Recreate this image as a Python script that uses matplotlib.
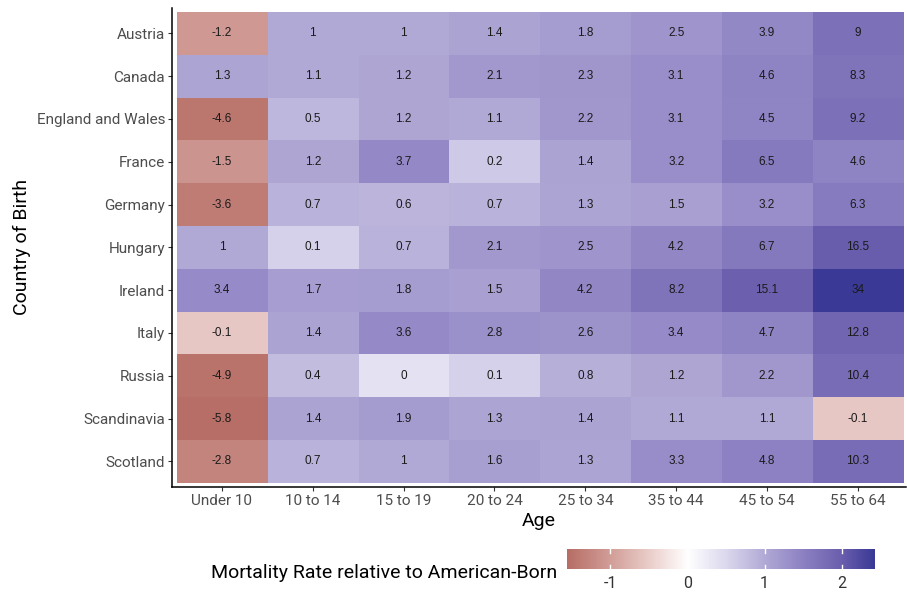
import numpy as np
import matplotlib
matplotlib.use("Agg")
import matplotlib.pyplot as plt
from matplotlib import font_manager
from matplotlib.colors import LinearSegmentedColormap, Normalize

# Data: mortality rate differences (foreign-born minus American-born)
countries = ["Austria", "Canada", "England and Wales", "France", "Germany",
             "Hungary", "Ireland", "Italy", "Russia", "Scandinavia", "Scotland"]
ages = ["Under 10", "10 to 14", "15 to 19", "20 to 24", "25 to 34",
        "35 to 44", "45 to 54", "55 to 64"]

austria = [-1.2, 1, 1, 1.4, 1.8, 2.5, 3.9, 9]
canada = [1.3, 1.1, 1.2, 2.1, 2.3, 3.1, 4.6, 8.3]
england_wales = [-4.6, 0.5, 1.2, 1.1, 2.2, 3.1, 4.5, 9.2]
france = [-1.5, 1.2, 3.7, 0.2, 1.4, 3.2, 6.5, 4.6]
germany = [-3.6, 0.7, 0.6, 0.7, 1.3, 1.5, 3.2, 6.3]
hungary = [1, 0.1, 0.7, 2.1, 2.5, 4.2, 6.7, 16.5]
ireland = [3.4, 1.7, 1.8, 1.5, 4.2, 8.2, 15.1, 34]
italy = [-0.1, 1.4, 3.6, 2.8, 2.6, 3.4, 4.7, 12.8]
russia = [-4.9, 0.4, 0.02, 0.1, 0.8, 1.2, 2.2, 10.4]
scandinavia = [-5.8, 1.4, 1.9, 1.3, 1.4, 1.1, 1.1, -0.1]
scotland = [-2.8, 0.7, 1, 1.6, 1.3, 3.3, 4.8, 10.3]

rows = [austria, canada, england_wales, france, germany, hungary,
        ireland, italy, russia, scandinavia, scotland]

# fonts
available = {f.name for f in font_manager.fontManager.ttflist}
COND = "Liberation Sans Narrow" if "Liberation Sans Narrow" in available else "Roboto"
CELL = "Liberation Sans" if "Liberation Sans" in available else "DejaVu Sans"

values = np.array(rows, dtype=float)
# colour scale: fourth-root transform of the difference
fill = np.sign(values) * np.abs(values) ** 0.25

stops = [(-1.56, "#b76e66"), (-1.0, "#d29e98"), (-0.5, "#eacdc9"),
         (0.0, "#ffffff"), (0.5, "#dcd8ee"), (1.0, "#b2aad6"),
         (1.5, "#8d81c3"), (2.0, "#6b5fae"), (2.43, "#3a3a96")]
lo, hi = stops[0][0], stops[-1][0]
cmap = LinearSegmentedColormap.from_list(
    "mort", [((v - lo) / (hi - lo), c) for v, c in stops])
norm = Normalize(lo, hi)

fig = plt.figure(figsize=(9.07, 5.95), dpi=100)
ax = fig.add_axes([172 / 907, 108.3 / 595, 734 / 907, 478.7 / 595])

nr, nc = values.shape
ax.imshow(fill, cmap=cmap, norm=norm, aspect="auto",
          extent=(-0.5, nc - 0.5, nr - 0.5, -0.5), interpolation="nearest")
for i in range(nr):
    for j in range(nc):
        lab = f"{round(values[i, j], 1):g}"
        if lab == "-0":
            lab = "0"
        ax.text(j, i, lab, ha="center", va="center", fontsize=8.5,
                family=CELL, color="#1a1a1a")

ax.set_xlim(-0.55, nc - 0.5 + 0.03)
ax.set_ylim(nr - 0.5 + 0.09, -0.5 - 0.09)
ax.set_xticks(range(nc))
ax.set_xticklabels(ages)
ax.set_yticks(range(nr))
ax.set_yticklabels(countries)
for lbl in ax.get_xticklabels() + ax.get_yticklabels():
    lbl.set_family(COND)
    lbl.set_fontsize(11)
    lbl.set_color("#4d4d4d")
ax.tick_params(length=3, width=0.8, color="#333333", pad=2)
for s in ("top", "right"):
    ax.spines[s].set_visible(False)
for s in ("left", "bottom"):
    ax.spines[s].set_linewidth(1.1)
ax.set_xlabel("Age", family=COND, fontsize=14, labelpad=3)
ax.set_ylabel("Country of Birth", family=COND, fontsize=14)
ax.yaxis.set_label_coords((31 - 172) / 734, 0.5)

# colourbar legend
cax = fig.add_axes([567 / 907, 26 / 595, 308 / 907, 20 / 595])
grad = np.linspace(lo, hi, 400)[None, :]
cax.imshow(grad, cmap=cmap, norm=norm, aspect="auto",
           extent=(lo, hi, 0, 1))
cax.set_xlim(lo, hi)
cax.set_ylim(0, 1)
for t in [-1, 0, 1, 2]:
    cax.plot([t, t], [0, 0.2], color="white", lw=1)
    cax.plot([t, t], [0.8, 1], color="white", lw=1)
cax.set_yticks([])
cax.set_xticks([-1, 0, 1, 2])
cax.set_xticklabels(["-1", "0", "1", "2"], family=COND, fontsize=11.5,
                    color="#333333")
cax.tick_params(length=0, pad=5)
for s in cax.spines.values():
    s.set_visible(False)

fig.text(557 / 907, 22 / 595, "Mortality Rate relative to American-Born",
         ha="right", va="center", family=COND, fontsize=14)

fig.savefig("out.png", dpi=100)
